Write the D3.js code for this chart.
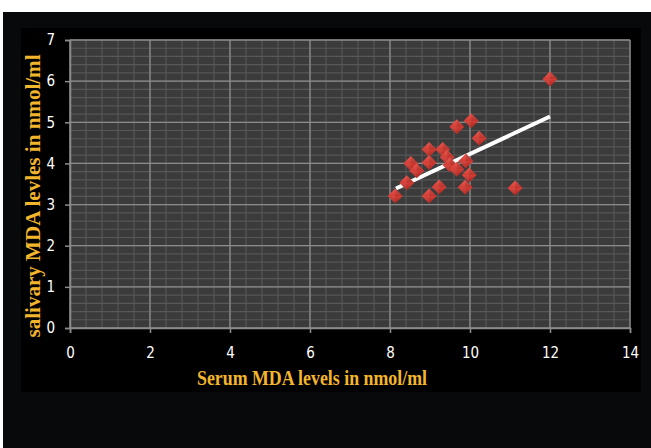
<!DOCTYPE html>
<html>
<head>
<meta charset="utf-8">
<script src="https://cdn.jsdelivr.net/npm/d3@7"></script>
<style>
  body { margin: 0; background: #fff; }
  svg { display: block; }
</style>
</head>
<body>
<div id="chart"></div>
<script>
// data
var serum    = [12.0, 10.03, 9.67, 10.23, 8.98, 9.32, 9.43, 8.52, 8.98, 9.9, 9.5, 9.67, 8.67, 9.98, 8.42, 9.23, 9.88, 11.13, 8.98, 8.13];
var salivary = [6.05, 5.04, 4.89, 4.61, 4.34, 4.34, 4.15, 4.0, 4.02, 4.06, 3.96, 3.86, 3.82, 3.72, 3.53, 3.43, 3.42, 3.40, 3.21, 3.21];
var trendX = [8.15, 12.0];
var trendY = [3.39, 5.14];
var xTicks = [0, 2, 4, 6, 8, 10, 12, 14];
var yTicks = [0, 1, 2, 3, 4, 5, 6, 7];

var W = 651, H = 448;
var margin = {top: 40, right: 21, bottom: 120, left: 70};
var width = W - margin.left - margin.right,   // 560
    height = H - margin.top - margin.bottom;  // 288

var svg = d3.select("#chart").append("svg")
  .attr("width", W).attr("height", H);

// backgrounds
svg.append("rect").attr("x", 3).attr("y", 12).attr("width", W - 3).attr("height", H - 12).attr("fill", "#07090b");
svg.append("rect").attr("x", 21).attr("y", 28).attr("width", 620).attr("height", 364).attr("fill", "#000");

var defs = svg.append("defs");
var grad = defs.append("linearGradient").attr("id", "dia").attr("x1", 0).attr("y1", 0).attr("x2", 0).attr("y2", 1);
grad.append("stop").attr("offset", "0%").attr("stop-color", "#ec5a50");
grad.append("stop").attr("offset", "50%").attr("stop-color", "#d33d35");
grad.append("stop").attr("offset", "100%").attr("stop-color", "#a8261f");

var g = svg.append("g").attr("transform", "translate(" + margin.left + "," + margin.top + ")");

var x = d3.scaleLinear().domain([0, 14]).range([0, width]);
var y = d3.scaleLinear().domain([0, 7]).range([height, 0]);

// plot area
g.append("rect").attr("width", width).attr("height", height).attr("fill", "#3b3b3b");

// minor grid
g.selectAll(".vminor").data(d3.range(0, 14.001, 0.4)).enter().append("line")
  .attr("x1", d => x(d)).attr("x2", d => x(d)).attr("y1", 0).attr("y2", height)
  .attr("stroke", "#575757").attr("stroke-width", 1.2);
g.selectAll(".hminor").data(d3.range(0, 7.001, 0.2)).enter().append("line")
  .attr("y1", d => y(d)).attr("y2", d => y(d)).attr("x1", 0).attr("x2", width)
  .attr("stroke", "#575757").attr("stroke-width", 1.2);

// major grid
g.selectAll(".vmajor").data(xTicks).enter().append("line")
  .attr("x1", d => x(d)).attr("x2", d => x(d)).attr("y1", 0).attr("y2", height)
  .attr("stroke", "#8c8c8c").attr("stroke-width", 1.3);
g.selectAll(".hmajor").data(yTicks).enter().append("line")
  .attr("y1", d => y(d)).attr("y2", d => y(d)).attr("x1", 0).attr("x2", width)
  .attr("stroke", "#8c8c8c").attr("stroke-width", 1.3);

// axes
var xAxis = g.append("g").attr("transform", "translate(0," + height + ")")
  .call(d3.axisBottom(x).tickValues(xTicks).tickSize(5).tickPadding(14).tickFormat(d3.format("d")));
var yAxis = g.append("g")
  .call(d3.axisLeft(y).tickValues(yTicks).tickSize(5).tickPadding(10).tickFormat(d3.format("d")));
[xAxis, yAxis].forEach(function(a) {
  a.select(".domain").attr("stroke", "#8c8c8c").attr("stroke-width", 1.5);
  a.selectAll(".tick line").attr("stroke", "#8c8c8c").attr("stroke-width", 1.5);
  a.selectAll("text").attr("fill", "#fff")
    .style("font-family", "'Liberation Sans Narrow', 'DejaVu Sans Condensed', sans-serif")
    .style("font-size", "15px");
});

// trend line
g.append("line")
  .attr("x1", x(trendX[0])).attr("y1", y(trendY[0]))
  .attr("x2", x(trendX[1])).attr("y2", y(trendY[1]))
  .attr("stroke", "#fff").attr("stroke-width", 4);

// diamonds
var pts = serum.map((d, i) => [d, salivary[i]]);
var s = 7.5;
var dg = g.selectAll(".pt").data(pts).enter().append("g")
  .attr("transform", d => "translate(" + x(d[0]) + "," + y(d[1]) + ")");
dg.append("path").attr("d", "M0," + (-s) + "L" + s + ",0L0," + s + "L" + (-s) + ",0Z")
  .attr("fill", "url(#dia)");
dg.append("path").attr("d", "M0," + (-s) + "L" + s + ",0L0,0Z").attr("fill", "#000").attr("opacity", 0.12);
dg.append("path").attr("d", "M0," + s + "L" + (-s) + ",0L0,0Z").attr("fill", "#fff").attr("opacity", 0.06);

// titles
svg.append("text")
  .attr("x", 312).attr("y", 385)
  .attr("text-anchor", "middle")
  .attr("fill", "#f2b52c")
  .style("font-family", "'Liberation Serif', serif")
  .style("font-weight", "bold")
  .style("font-size", "21px")
  .attr("textLength", 230)
  .attr("lengthAdjust", "spacingAndGlyphs")
  .text("Serum MDA levels in nmol/ml");

svg.append("text")
  .attr("transform", "translate(40,196) rotate(-90)")
  .attr("text-anchor", "middle")
  .attr("fill", "#f2b52c")
  .style("font-family", "'Liberation Serif', serif")
  .style("font-weight", "bold")
  .style("font-size", "20px")
  .attr("textLength", 283)
  .attr("lengthAdjust", "spacingAndGlyphs")
  .text("salivary MDA levles in nmol/ml");
</script>
</body>
</html>
